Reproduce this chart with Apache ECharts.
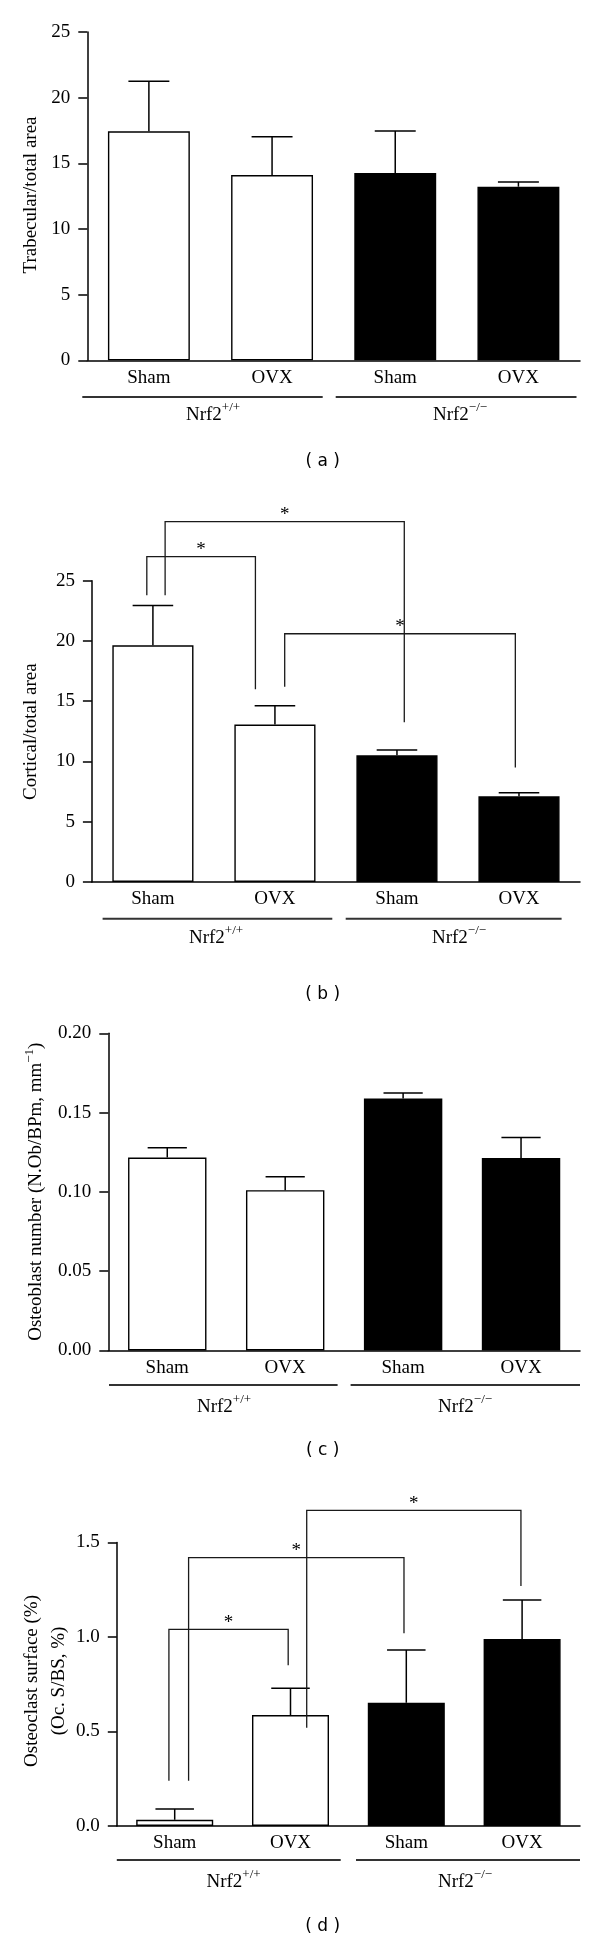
<!DOCTYPE html>
<html><head><meta charset="utf-8">
<script src="https://cdn.jsdelivr.net/npm/echarts@6/dist/echarts.min.js"></script>
<style>html,body{margin:0;padding:0;background:#fff}#c{width:600px;height:1943px}</style>
</head><body><div id="c"></div>
<script>
// ---- data ----
const categories = ['Sham', 'OVX', 'Sham', 'OVX'];
const genotypeLabels = ['+/+', '\u2212/\u2212'];
const panelCaptions = ['( a )', '( b )', '( c )', '( d )'];

const trabecularMean = [17.44, 14.11, 14.26, 13.22];
const trabecularSem  = [3.81, 2.92, 3.20, 0.36];
const corticalMean   = [19.64, 13.06, 10.51, 7.11];
const corticalSem    = [3.31, 1.57, 0.44, 0.30];
const osteoblastMean = [0.1217, 0.1011, 0.1589, 0.1213];
const osteoblastSem  = [0.0061, 0.0085, 0.0034, 0.0130];
const osteoclastMean = [0.033, 0.587, 0.652, 0.989];
const osteoclastSem  = [0.057, 0.142, 0.279, 0.207];

// significance brackets: [from (category units), to, top, left leg bottom, right leg bottom]
const corticalBrackets = [
  [-0.05, 0.84, 27.0, 23.8, 16.0],
  [0.10, 2.06, 29.9, 23.8, 13.25],
  [1.08, 2.97, 20.6, 16.2, 9.5]
];
const osteoclastBrackets = [
  [-0.05, 0.98, 1.04, 0.24, 0.85],
  [0.12, 1.98, 1.42, 0.24, 1.02],
  [1.14, 2.99, 1.67, 0.52, 1.27]
];

// ---- layout / style ----
const SERIF = '"Liberation Serif", "Times New Roman", serif';
const SANS = '"DejaVu Sans", "Liberation Sans", sans-serif';
const barFills = ['#ffffff', '#ffffff', '#000000', '#000000'];
const RIGHT = 580;

const panels = [
  { mean: trabecularMean, sem: trabecularSem, max: 25, interval: 5, digits: 0, left: 87.3, top: 32, zero: 360.3, brackets: [],
    title: 'Trabecular/total area', titleX: 30.6, titleY: 195,
    groupY: 397, groups: [[82.3, 322.7], [335.7, 576.5]], groupLabelY: 413, groupLabelX: [213, 460], captionY: 461.7 },
  { mean: corticalMean, sem: corticalSem, max: 25, interval: 5, digits: 0, left: 91.9, top: 580.7, zero: 882, brackets: corticalBrackets,
    title: 'Cortical/total area', titleX: 31.4, titleY: 731.7,
    groupY: 918.7, groups: [[102.6, 332.3], [345.7, 561.6]], groupLabelY: 936, groupLabelX: [216, 459], captionY: 995 },
  { mean: osteoblastMean, sem: osteoblastSem, max: 0.2, interval: 0.05, digits: 2, left: 108.3, top: 1033.3, zero: 1350.5, brackets: [],
    title: 'Osteoblast number (N.Ob/BPm, mm{sup|\u22121})', titleX: 36.4, titleY: 1191.7,
    groupY: 1385, groups: [[109, 337.6], [350.6, 580]], groupLabelY: 1405, groupLabelX: [224, 465], captionY: 1451 },
  { mean: osteoclastMean, sem: osteoclastSem, max: 1.5, interval: 0.5, digits: 1, left: 116.8, top: 1542.5, zero: 1826, brackets: osteoclastBrackets,
    title: 'Osteoclast surface (%)\n(Oc. S/BS, %)', titleX: 45.9, titleY: 1681,
    groupY: 1860, groups: [[116.8, 340.7], [356, 580]], groupLabelY: 1880, groupLabelX: [233.5, 465], captionY: 1926.7 }
];

function renderErr(params, api) {
  const i = api.value(0);
  const lo = api.coord([i, api.value(1)]);
  const hi = api.coord([i, api.value(2)]);
  const half = api.size([1, 0])[0] * 0.665 * 0.25;
  const st = { stroke: '#000', lineWidth: 1.5 };
  return { type: 'group', children: [
    { type: 'line', shape: { x1: lo[0], y1: lo[1], x2: hi[0], y2: hi[1] }, style: st },
    { type: 'line', shape: { x1: hi[0] - half, y1: hi[1], x2: hi[0] + half, y2: hi[1] }, style: st }
  ]};
}

function renderBracket(params, api) {
  const base = api.coord([0, 0])[0];
  const band = api.size([1, 0])[0];
  const x1 = base + api.value(1) * band, x2 = base + api.value(2) * band;
  const yT = api.coord([0, api.value(3)])[1];
  const yL = api.coord([0, api.value(4)])[1];
  const yR = api.coord([0, api.value(5)])[1];
  return { type: 'group', children: [
    { type: 'polyline', shape: { points: [[x1, yL], [x1, yT], [x2, yT], [x2, yR]] },
      style: { stroke: '#1a1a1a', fill: null, lineWidth: 1.3 } },
    { type: 'text', x: (x1 + x2) / 2, y: yT + 3,
      style: { text: '*', fontFamily: SERIF, fontSize: 19, fill: '#000', align: 'center', verticalAlign: 'bottom' } }
  ]};
}

const grids = [], xAxes = [], yAxes = [], series = [], graphics = [];
panels.forEach((p, k) => {
  grids.push({ left: p.left, top: p.top, width: RIGHT - p.left, height: p.zero - p.top, containLabel: false });
  xAxes.push({ type: 'category', gridIndex: k, data: categories, boundaryGap: true,
    axisLine: { lineStyle: { color: '#000', width: 1.5 } }, axisTick: { show: false },
    axisLabel: { color: '#000', fontFamily: SERIF, fontSize: 19, margin: 8 } });
  yAxes.push({ type: 'value', gridIndex: k, min: 0, max: p.max, interval: p.interval,
    splitLine: { show: false },
    axisLine: { show: true, lineStyle: { color: '#000', width: 1.5 } },
    axisTick: { show: true, inside: false, length: 9, lineStyle: { color: '#000', width: 1.5 } },
    axisLabel: { color: '#000', fontFamily: SERIF, fontSize: 19, margin: 17,
      formatter: v => v.toFixed(p.digits) } });
  series.push({ type: 'bar', xAxisIndex: k, yAxisIndex: k, barWidth: '66.5%',
    data: p.mean.map((v, i) => ({ value: v, itemStyle: { color: barFills[i], borderColor: '#000', borderWidth: 1.4 } })),
    z: 2 });
  series.push({ type: 'custom', xAxisIndex: k, yAxisIndex: k, renderItem: renderErr, clip: false, z: 3,
    encode: { x: 0, y: 2 },
    data: p.mean.map((v, i) => [i, v, v + p.sem[i]]) });
  if (p.brackets.length) {
    series.push({ type: 'custom', xAxisIndex: k, yAxisIndex: k, renderItem: renderBracket, clip: false, z: 4,
      encode: { x: 0, y: 3 },
      data: p.brackets.map(b => [0].concat(b)) });
  }
  // y title
  graphics.push({ type: 'text', x: p.titleX, y: p.titleY, rotation: Math.PI / 2,
    style: { text: p.title, fontFamily: SERIF, fontSize: 19, lineHeight: 27, fill: '#000', align: 'center', verticalAlign: 'middle',
      rich: { sup: { fontFamily: SERIF, fontSize: 13, verticalAlign: 'top', lineHeight: 13 } } } });
  // group lines & labels
  p.groups.forEach((g, j) => {
    graphics.push({ type: 'line', shape: { x1: g[0], y1: p.groupY, x2: g[1], y2: p.groupY },
      style: { stroke: '#333', lineWidth: 2 } });
    graphics.push({ type: 'text', x: p.groupLabelX[j], y: p.groupLabelY,
      style: { text: '{m|Nrf2}{s|' + genotypeLabels[j] + '}', align: 'center', verticalAlign: 'middle',
        rich: { m: { fontFamily: SERIF, fontSize: 19, lineHeight: 24, verticalAlign: 'bottom', fill: '#000' },
                s: { fontFamily: SERIF, fontSize: 13, lineHeight: 13, verticalAlign: 'top', fill: '#000' } } } });
  });
  graphics.push({ type: 'text', x: 322.7, y: p.captionY,
    style: { text: panelCaptions[k], fontFamily: SANS, fontSize: 17, fill: '#000', align: 'center', verticalAlign: 'middle' } });
});

const chart = echarts.init(document.getElementById('c'), null, { renderer: 'canvas', width: 600, height: 1943 });
chart.setOption({
  animation: false,
  backgroundColor: '#fff',
  grid: grids, xAxis: xAxes, yAxis: yAxes, series: series, graphic: graphics
});
</script></body></html>
